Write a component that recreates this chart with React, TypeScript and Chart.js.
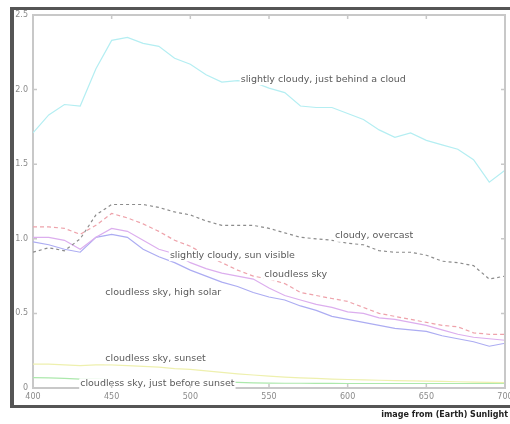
import React, { useEffect, useRef } from "react";
import { Chart, registerables } from "chart.js";
Chart.register(...registerables);

const wavelengths = [400, 410, 420, 430, 440, 450, 460, 470, 480, 490, 500, 510, 520, 530, 540, 550, 560, 570, 580, 590, 600, 610, 620, 630, 640, 650, 660, 670, 680, 690, 700];

const justBehindCloud = [1.71, 1.83, 1.9, 1.89, 2.14, 2.33, 2.35, 2.31, 2.29, 2.21, 2.17, 2.1, 2.05, 2.06, 2.05, 2.01, 1.98, 1.89, 1.88, 1.88, 1.84, 1.8, 1.73, 1.68, 1.71, 1.66, 1.63, 1.6, 1.53, 1.38, 1.46];
const overcast = [0.91, 0.94, 0.92, 1.0, 1.16, 1.23, 1.23, 1.23, 1.21, 1.18, 1.16, 1.12, 1.09, 1.09, 1.09, 1.07, 1.04, 1.01, 1.0, 0.99, 0.97, 0.96, 0.92, 0.91, 0.91, 0.89, 0.85, 0.84, 0.82, 0.73, 0.75];
const sunVisible = [1.08, 1.08, 1.07, 1.03, 1.09, 1.17, 1.14, 1.1, 1.05, 0.99, 0.95, 0.89, 0.84, 0.79, 0.75, 0.73, 0.7, 0.64, 0.62, 0.6, 0.58, 0.54, 0.5, 0.48, 0.46, 0.44, 0.42, 0.41, 0.37, 0.36, 0.36];
const cloudless = [1.01, 1.01, 0.99, 0.93, 1.01, 1.07, 1.05, 0.99, 0.93, 0.9, 0.84, 0.8, 0.77, 0.75, 0.73, 0.67, 0.62, 0.59, 0.56, 0.54, 0.51, 0.5, 0.47, 0.46, 0.44, 0.42, 0.39, 0.36, 0.34, 0.33, 0.32];
const cloudlessHigh = [0.98, 0.96, 0.93, 0.91, 1.01, 1.03, 1.01, 0.93, 0.88, 0.84, 0.79, 0.75, 0.71, 0.68, 0.64, 0.61, 0.59, 0.55, 0.52, 0.48, 0.46, 0.44, 0.42, 0.4, 0.39, 0.38, 0.35, 0.33, 0.31, 0.28, 0.3];
const sunset = [0.16, 0.16, 0.155, 0.15, 0.155, 0.155, 0.15, 0.145, 0.14, 0.13, 0.125, 0.115, 0.105, 0.095, 0.087, 0.08, 0.073, 0.068, 0.064, 0.06, 0.057, 0.054, 0.052, 0.05, 0.048, 0.046, 0.044, 0.042, 0.04, 0.038, 0.036];
const beforeSunset = [0.07, 0.068, 0.065, 0.06, 0.058, 0.056, 0.055, 0.054, 0.052, 0.05, 0.048, 0.046, 0.043, 0.038, 0.035, 0.033, 0.032, 0.032, 0.031, 0.031, 0.03, 0.03, 0.03, 0.03, 0.03, 0.03, 0.03, 0.03, 0.03, 0.03, 0.03];

const labelTexts = [
  "slightly cloudy, just behind a cloud",
  "cloudy, overcast",
  "slightly cloudy, sun visible",
  "cloudless sky",
  "cloudless sky, high solar",
  "cloudless sky, sunset",
  "cloudless sky, just before sunset",
];
const labelX = [532, 592, 487, 547, 446, 446, 430];
const labelY = [2.07, 1.02, 0.89, 0.76, 0.64, 0.2, 0.03];

const footerText = "image from (Earth) Sunlight";

const labelPlugin = {
  id: "lineLabels",
  afterDatasetsDraw(chart: any) {
    const { ctx, scales } = chart;
    const xs = scales.x;
    const ys = scales.y;
    ctx.save();
    ctx.font = '9.5px "DejaVu Sans"';
    ctx.textBaseline = "middle";
    ctx.textAlign = "left";
    labelTexts.forEach((t, i) => {
      const px = xs.getPixelForValue(labelX[i]);
      const py = ys.getPixelForValue(labelY[i]);
      const w = ctx.measureText(t).width;
      ctx.fillStyle = "#ffffff";
      ctx.fillRect(px - 1, py - 5, w + 2, 11);
      ctx.fillStyle = "#5a5a5a";
      ctx.fillText(t, px, py);
    });
    ctx.restore();
  },
};

const framePlugin = {
  id: "boxFrame",
  afterDraw(chart: any) {
    const { ctx, chartArea, scales } = chart;
    const { left, right, top, bottom } = chartArea;
    ctx.save();
    ctx.strokeStyle = "#c8c8c8";
    ctx.lineWidth = 2;
    ctx.beginPath();
    ctx.moveTo(left, top);
    ctx.lineTo(right, top);
    ctx.lineTo(right, bottom);
    ctx.stroke();
    ctx.lineWidth = 1.5;
    ctx.beginPath();
    scales.x.ticks.forEach((t: any) => {
      const x = scales.x.getPixelForValue(t.value);
      ctx.moveTo(x, bottom);
      ctx.lineTo(x, bottom - 4);
      ctx.moveTo(x, top);
      ctx.lineTo(x, top + 4);
    });
    scales.y.ticks.forEach((t: any) => {
      const y = scales.y.getPixelForValue(t.value);
      ctx.moveTo(left, y);
      ctx.lineTo(left + 4, y);
      ctx.moveTo(right, y);
      ctx.lineTo(right - 4, y);
    });
    ctx.stroke();
    ctx.restore();
  },
};

function ds(label: string, data: number[], color: string, dash: number[] = []) {
  return {
    label,
    data: wavelengths.map((w, i) => ({ x: w, y: data[i] })),
    borderColor: color,
    backgroundColor: color,
    borderWidth: 1.2,
    borderDash: dash,
    pointRadius: 0,
    tension: 0,
    fill: false,
  };
}

export default function App() {
  const ref = useRef<HTMLCanvasElement>(null);
  useEffect(() => {
    const chart = new Chart(ref.current!, {
      type: "line",
      data: {
        datasets: [
          ds(labelTexts[0], justBehindCloud, "#b4eef2"),
          ds(labelTexts[1], overcast, "#8c8c8c", [3, 3]),
          ds(labelTexts[2], sunVisible, "#eea2aa", [4, 3]),
          ds(labelTexts[3], cloudless, "#dcaeee"),
          ds(labelTexts[4], cloudlessHigh, "#acacf2"),
          ds(labelTexts[5], sunset, "#eef0ae"),
          ds(labelTexts[6], beforeSunset, "#ace8ac"),
        ],
      },
      options: {
        responsive: false,
        animation: false,
        devicePixelRatio: 1,
        layout: { padding: { left: 0, right: 5, top: 15, bottom: 16 } },
        plugins: { legend: { display: false }, tooltip: { enabled: false } },
        scales: {
          x: {
            type: "linear",
            min: 400,
            max: 700,
            ticks: { stepSize: 50, color: "#8a8a8a", font: { size: 8, family: "DejaVu Sans" }, padding: 4, maxRotation: 0 },
            grid: { display: true, drawOnChartArea: false, drawTicks: false },
            border: { color: "#c8c8c8", width: 2 },
            afterFit(scale: any) {
              scale.height = 20;
              scale.paddingLeft = 0;
              scale.paddingRight = 0;
            },
          },
          y: {
            type: "linear",
            min: 0,
            max: 2.5,
            ticks: { stepSize: 0.5, color: "#8a8a8a", font: { size: 8, family: "DejaVu Sans" }, padding: 5 },
            grid: { display: true, drawOnChartArea: false, drawTicks: false },
            border: { color: "#c8c8c8", width: 2 },
            afterFit(scale: any) {
              scale.width = 33;
              scale.paddingTop = 0;
              scale.paddingBottom = 0;
            },
          },
        },
      },
      plugins: [labelPlugin, framePlugin],
    } as any);
    return () => chart.destroy();
  }, []);
  return (
    <div style={{ position: "absolute", left: 0, top: 0, width: 510, height: 424, overflow: "hidden", background: "#fff" }}>
      <div
        style={{
          position: "absolute",
          left: 10,
          top: 7,
          width: 520,
          height: 401,
          boxSizing: "border-box",
          borderStyle: "solid",
          borderColor: "#555",
          borderWidth: "3px 4px 3px 4px",
        }}
      />
      <canvas ref={ref} width={510} height={424} style={{ position: "absolute", left: 0, top: 0, width: 510, height: 424 }} />
      <div
        style={{
          position: "absolute",
          right: 2,
          top: 410,
          font: 'bold 8px "DejaVu Sans"',
          color: "#222",
          whiteSpace: "nowrap",
        }}
      >
        {footerText}
      </div>
    </div>
  );
}
